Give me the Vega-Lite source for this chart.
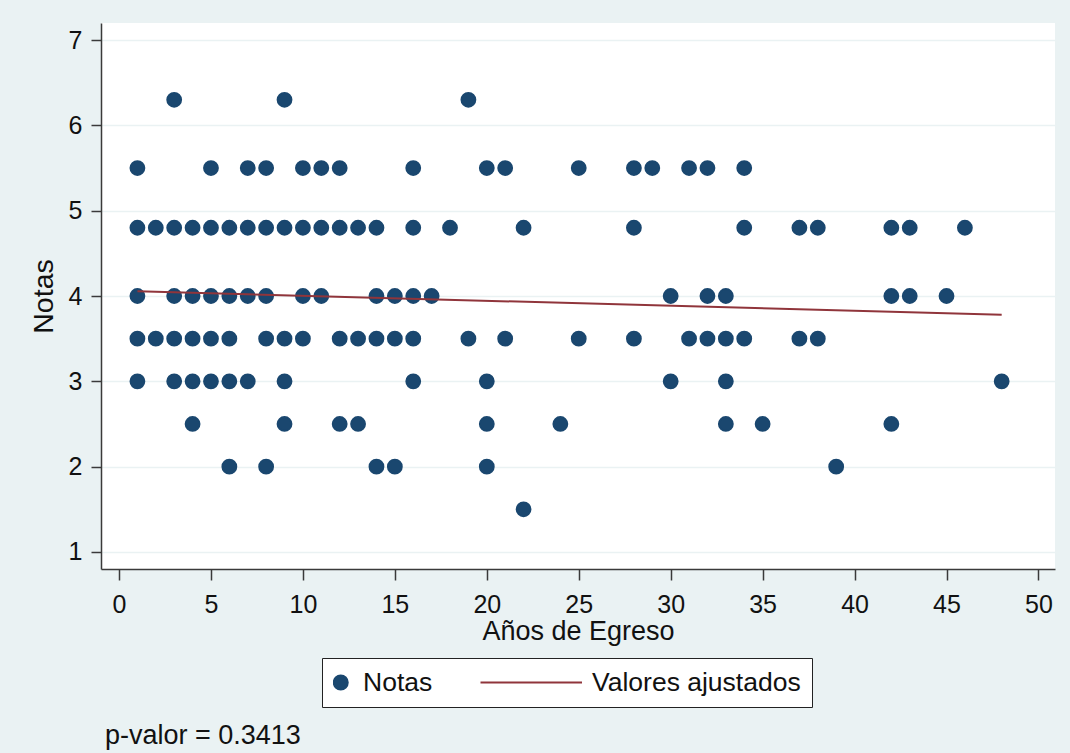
{
  "$schema": "https://vega.github.io/schema/vega-lite/v6.json",
  "width": 954,
  "height": 546,
  "autosize": {"type": "none"},
  "padding": {"left": 101, "top": 23, "right": 15, "bottom": 184},
  "background": "#EAF2F3",
  "config": {
    "view": {"fill": "white", "stroke": null},
    "font": "Liberation Sans",
    "axis": {
      "domainColor": "#3a3a3a",
      "domainWidth": 1.5,
      "tickColor": "#3a3a3a",
      "tickWidth": 1.5,
      "labelColor": "#111111",
      "titleColor": "#111111",
      "labelFont": "Liberation Sans",
      "titleFont": "Liberation Sans",
      "labelFontSize": 25,
      "titleFontSize": 27,
      "titleFontWeight": "normal",
      "gridColor": "#EAF2F3",
      "gridWidth": 1.5
    }
  },
  "title": {
    "text": "p-valor = 0.3413",
    "orient": "bottom",
    "anchor": "start",
    "frame": "group",
    "offset": 15,
    "dx": 4,
    "fontSize": 27,
    "fontWeight": "normal",
    "font": "Liberation Sans",
    "color": "#111111"
  },
  "datasets": {
    "notas": [
      {"anos": 3, "nota": 6.3}, {"anos": 9, "nota": 6.3}, {"anos": 19, "nota": 6.3},
      {"anos": 1, "nota": 5.5}, {"anos": 5, "nota": 5.5}, {"anos": 7, "nota": 5.5}, {"anos": 8, "nota": 5.5},
      {"anos": 10, "nota": 5.5}, {"anos": 11, "nota": 5.5}, {"anos": 12, "nota": 5.5}, {"anos": 16, "nota": 5.5},
      {"anos": 20, "nota": 5.5}, {"anos": 21, "nota": 5.5}, {"anos": 25, "nota": 5.5}, {"anos": 28, "nota": 5.5},
      {"anos": 29, "nota": 5.5}, {"anos": 31, "nota": 5.5}, {"anos": 32, "nota": 5.5}, {"anos": 34, "nota": 5.5},
      {"anos": 1, "nota": 4.8}, {"anos": 2, "nota": 4.8}, {"anos": 3, "nota": 4.8}, {"anos": 4, "nota": 4.8},
      {"anos": 5, "nota": 4.8}, {"anos": 6, "nota": 4.8}, {"anos": 7, "nota": 4.8}, {"anos": 8, "nota": 4.8},
      {"anos": 9, "nota": 4.8}, {"anos": 10, "nota": 4.8}, {"anos": 11, "nota": 4.8}, {"anos": 12, "nota": 4.8},
      {"anos": 13, "nota": 4.8}, {"anos": 14, "nota": 4.8}, {"anos": 16, "nota": 4.8}, {"anos": 18, "nota": 4.8},
      {"anos": 22, "nota": 4.8}, {"anos": 28, "nota": 4.8}, {"anos": 34, "nota": 4.8}, {"anos": 37, "nota": 4.8},
      {"anos": 38, "nota": 4.8}, {"anos": 42, "nota": 4.8}, {"anos": 43, "nota": 4.8}, {"anos": 46, "nota": 4.8},
      {"anos": 1, "nota": 4.0}, {"anos": 3, "nota": 4.0}, {"anos": 4, "nota": 4.0}, {"anos": 5, "nota": 4.0},
      {"anos": 6, "nota": 4.0}, {"anos": 7, "nota": 4.0}, {"anos": 8, "nota": 4.0}, {"anos": 10, "nota": 4.0},
      {"anos": 11, "nota": 4.0}, {"anos": 14, "nota": 4.0}, {"anos": 15, "nota": 4.0}, {"anos": 16, "nota": 4.0},
      {"anos": 17, "nota": 4.0}, {"anos": 30, "nota": 4.0}, {"anos": 32, "nota": 4.0}, {"anos": 33, "nota": 4.0},
      {"anos": 42, "nota": 4.0}, {"anos": 43, "nota": 4.0}, {"anos": 45, "nota": 4.0},
      {"anos": 1, "nota": 3.5}, {"anos": 2, "nota": 3.5}, {"anos": 3, "nota": 3.5}, {"anos": 4, "nota": 3.5},
      {"anos": 5, "nota": 3.5}, {"anos": 6, "nota": 3.5}, {"anos": 8, "nota": 3.5}, {"anos": 9, "nota": 3.5},
      {"anos": 10, "nota": 3.5}, {"anos": 12, "nota": 3.5}, {"anos": 13, "nota": 3.5}, {"anos": 14, "nota": 3.5},
      {"anos": 15, "nota": 3.5}, {"anos": 16, "nota": 3.5}, {"anos": 19, "nota": 3.5}, {"anos": 21, "nota": 3.5},
      {"anos": 25, "nota": 3.5}, {"anos": 28, "nota": 3.5}, {"anos": 31, "nota": 3.5}, {"anos": 32, "nota": 3.5},
      {"anos": 33, "nota": 3.5}, {"anos": 34, "nota": 3.5}, {"anos": 37, "nota": 3.5}, {"anos": 38, "nota": 3.5},
      {"anos": 1, "nota": 3.0}, {"anos": 3, "nota": 3.0}, {"anos": 4, "nota": 3.0}, {"anos": 5, "nota": 3.0},
      {"anos": 6, "nota": 3.0}, {"anos": 7, "nota": 3.0}, {"anos": 9, "nota": 3.0}, {"anos": 16, "nota": 3.0},
      {"anos": 20, "nota": 3.0}, {"anos": 30, "nota": 3.0}, {"anos": 33, "nota": 3.0}, {"anos": 48, "nota": 3.0},
      {"anos": 4, "nota": 2.5}, {"anos": 9, "nota": 2.5}, {"anos": 12, "nota": 2.5}, {"anos": 13, "nota": 2.5},
      {"anos": 20, "nota": 2.5}, {"anos": 24, "nota": 2.5}, {"anos": 33, "nota": 2.5}, {"anos": 35, "nota": 2.5},
      {"anos": 42, "nota": 2.5},
      {"anos": 6, "nota": 2.0}, {"anos": 8, "nota": 2.0}, {"anos": 14, "nota": 2.0}, {"anos": 15, "nota": 2.0},
      {"anos": 20, "nota": 2.0}, {"anos": 39, "nota": 2.0},
      {"anos": 22, "nota": 1.5}
    ],
    "ajuste": [
      {"anos": 1, "nota": 4.055},
      {"anos": 48, "nota": 3.781}
    ]
  },
  "layer": [
    {
      "data": {"name": "notas"},
      "mark": {"type": "point", "filled": true, "opacity": 1, "strokeWidth": 1.8},
      "encoding": {
        "x": {
          "field": "anos",
          "type": "quantitative",
          "title": "Años de Egreso",
          "scale": {"domain": [-0.98, 50.9], "nice": false, "zero": false},
          "axis": {
            "values": [0, 5, 10, 15, 20, 25, 30, 35, 40, 45, 50],
            "format": "d",
            "grid": false,
            "tickSize": 11,
            "labelPadding": 12,
            "titlePadding": 1
          }
        },
        "y": {
          "field": "nota",
          "type": "quantitative",
          "title": "Notas",
          "scale": {"domain": [0.8, 7.2], "nice": false, "zero": false},
          "axis": {
            "values": [1, 2, 3, 4, 5, 6, 7],
            "format": "d",
            "grid": true,
            "tickSize": 10,
            "labelPadding": 9,
            "titlePadding": 10,
            "titleFontSize": 28.5,
            "labelAngle": 0
          }
        },
        "fill": {
          "datum": "Notas",
          "type": "nominal",
          "scale": {"domain": ["Notas", "Valores ajustados"], "range": ["#1A476F", "#90353B"]},
          "legend": {
            "orient": "none",
            "legendX": 221,
            "legendY": 635,
            "direction": "horizontal",
            "title": null,
            "fillColor": "white",
            "strokeColor": "#222222",
            "padding": 11,
            "columnPadding": 47.5,
            "clipHeight": 27,
            "labelFont": "Liberation Sans",
            "labelFontSize": 26.5,
            "labelColor": "#111111",
            "labelLimit": 400,
            "labelOffset": 9,
            "symbolOffset": -5.5,
            "symbolStrokeWidth": 2,
            "symbolOpacity": 1
          }
        },
        "stroke": {
          "datum": "Notas",
          "type": "nominal",
          "scale": {"domain": ["Notas", "Valores ajustados"], "range": ["#1A476F", "#90353B"]}
        },
        "shape": {
          "datum": "Notas",
          "type": "nominal",
          "scale": {"domain": ["Notas", "Valores ajustados"], "range": ["circle", "stroke"]}
        },
        "size": {
          "datum": "Notas",
          "type": "nominal",
          "scale": {"domain": ["Notas", "Valores ajustados"], "range": [196, 11236]}
        }
      }
    },
    {
      "data": {"name": "ajuste"},
      "mark": {"type": "line", "color": "#90353B", "strokeWidth": 2},
      "encoding": {
        "x": {"field": "anos", "type": "quantitative", "title": "Años de Egreso"},
        "y": {"field": "nota", "type": "quantitative", "title": "Notas"}
      }
    }
  ]
}
